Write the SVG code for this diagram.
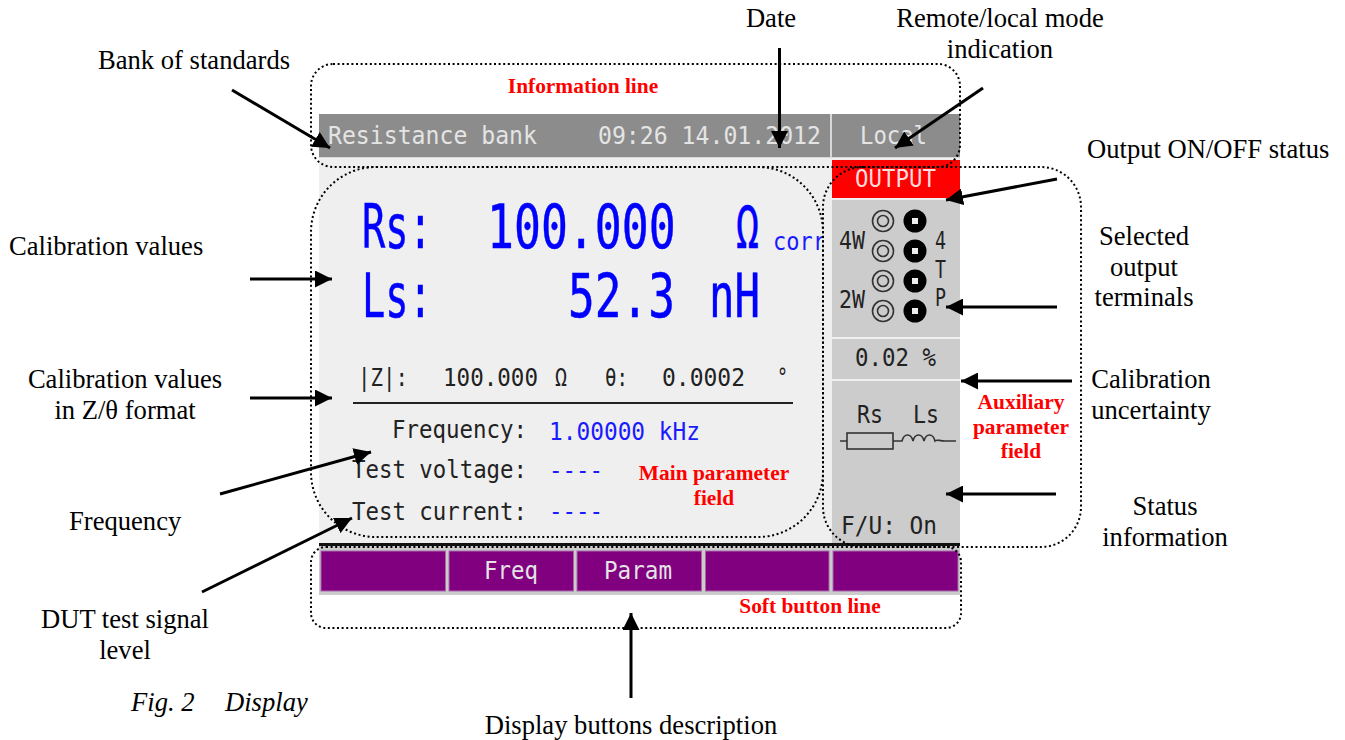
<svg xmlns="http://www.w3.org/2000/svg" width="1345" height="740" viewBox="0 0 1345 740">
<style>
.l{font-family:"Liberation Serif","Times New Roman",serif;font-size:26.6px;fill:#000}
.m{text-anchor:middle}
.r{font-family:"Liberation Serif","Times New Roman",serif;font-size:21.4px;font-weight:bold;fill:#f00;text-anchor:middle}
.s{font-family:"DejaVu Sans Mono",monospace;fill:#222}
.big{font-size:60px;fill:#00f;stroke:#00f;stroke-width:.5}
.sm{font-size:25px}
.bl{fill:#1a1aff}
.w{fill:#e4e4e4}
.d{fill:none;stroke:#000;stroke-width:2;stroke-dasharray:2 2.6}
.a{fill:none;stroke:#000;stroke-width:3;marker-end:url(#ah)}
.b{fill:#800080;stroke:#a868a8;stroke-width:1}
.h{fill:none;stroke:#333;stroke-width:1.6}
</style>
<defs>
<marker id="ah" markerUnits="userSpaceOnUse" markerWidth="17" markerHeight="17" refX="17" refY="8.5" orient="auto" viewBox="0 0 17 17"><path d="M0,0L17,8.500L0,17z" fill="#000"/></marker>
<clipPath id="mainclip"><rect x="319" y="160" width="505" height="383"/></clipPath>
</defs>
<rect width="1345" height="740" fill="#fff"/>
<g id="display">
<rect x="319" y="114" width="641" height="430" fill="#efefef"/>
<rect x="319" y="114" width="511" height="43" fill="#8c8c8c"/>
<rect x="830" y="114" width="2" height="43" fill="#d8d8d8"/>
<rect x="319" y="157" width="641" height="1" fill="#d8d8d8"/>
<rect x="832" y="114" width="128" height="43" fill="#8c8c8c"/>
<rect x="832" y="160" width="128" height="38" fill="#f00"/>
<rect x="832" y="200" width="128" height="137" fill="#ccc"/>
<rect x="832" y="339" width="128" height="40" fill="#ccc"/>
<rect x="832" y="381" width="128" height="162" fill="#ccc"/>
<rect x="319" y="543" width="641" height="3" fill="#111"/>
<rect x="319" y="546" width="641" height="49" fill="#ccc"/>
</g>
<g id="info-line">
<text class="s w sm" x="328" y="144" textLength="209" lengthAdjust="spacingAndGlyphs">Resistance bank</text>
<text class="s w sm" x="598" y="144" textLength="223" lengthAdjust="spacingAndGlyphs">09:26 14.01.2012</text>
<text class="s w sm" x="860" y="144" textLength="67" lengthAdjust="spacingAndGlyphs">Local</text>
</g>
<g id="main-values" clip-path="url(#mainclip)">
<text class="s big" x="362" y="248" textLength="70" lengthAdjust="spacingAndGlyphs">Rs:</text>
<text class="s big" transform="translate(487,248) scale(.746,1)">100.000</text>
<text class="s big" x="736" y="248" textLength="23" lengthAdjust="spacingAndGlyphs">Ω</text>
<text class="s bl sm" x="773" y="250" textLength="53" lengthAdjust="spacingAndGlyphs">corr</text>
<text class="s big" x="362" y="317" textLength="70" lengthAdjust="spacingAndGlyphs">Ls:</text>
<text class="s big" x="568" y="317" textLength="107" lengthAdjust="spacingAndGlyphs">52.3</text>
<text class="s big" x="709" y="317" textLength="51" lengthAdjust="spacingAndGlyphs">nH</text>
<text class="s sm" x="358" y="386" textLength="50" lengthAdjust="spacingAndGlyphs">|Z|:</text>
<text class="s sm" x="443" y="386" textLength="95" lengthAdjust="spacingAndGlyphs">100.000</text>
<text class="s sm" x="555" y="386" textLength="12" lengthAdjust="spacingAndGlyphs">Ω</text>
<text class="s sm" x="605" y="386" textLength="23" lengthAdjust="spacingAndGlyphs">θ:</text>
<text class="s sm" x="662" y="386" textLength="83" lengthAdjust="spacingAndGlyphs">0.0002</text>
<text class="s sm" x="777" y="386" textLength="11" lengthAdjust="spacingAndGlyphs">°</text>
<line x1="353" y1="403" x2="793" y2="403" stroke="#222" stroke-width="2"/>
<text class="s sm" x="392" y="438" textLength="135" lengthAdjust="spacingAndGlyphs">Frequency:</text>
<text class="s bl sm" x="549" y="440" textLength="151" lengthAdjust="spacingAndGlyphs">1.00000 kHz</text>
<text class="s sm" x="352" y="478" textLength="175" lengthAdjust="spacingAndGlyphs">Test voltage:</text>
<text class="s bl sm" x="549" y="479" textLength="54" lengthAdjust="spacingAndGlyphs">----</text>
<text class="s sm" x="352" y="520" textLength="175" lengthAdjust="spacingAndGlyphs">Test current:</text>
<text class="s bl sm" x="549" y="520" textLength="54" lengthAdjust="spacingAndGlyphs">----</text>
</g>
<g id="aux-values">
<text class="s sm" x="855" y="187" textLength="81" lengthAdjust="spacingAndGlyphs" style="fill:#ffdcdc">OUTPUT</text>
<text class="s sm" x="839" y="249" textLength="26" lengthAdjust="spacingAndGlyphs">4W</text>
<text class="s sm" x="839" y="308" textLength="26" lengthAdjust="spacingAndGlyphs">2W</text>
<text class="s sm" x="935" y="249" textLength="11" lengthAdjust="spacingAndGlyphs">4</text>
<text class="s sm" x="935" y="278" textLength="11" lengthAdjust="spacingAndGlyphs">T</text>
<text class="s sm" x="935" y="306" textLength="11" lengthAdjust="spacingAndGlyphs">P</text>
<g class="h">
<circle cx="883" cy="221" r="10.500"/><circle cx="883" cy="221" r="5.500"/>
<circle cx="883" cy="251" r="10.500"/><circle cx="883" cy="251" r="5.500"/>
<circle cx="883" cy="281" r="10.500"/><circle cx="883" cy="281" r="5.500"/>
<circle cx="883" cy="311" r="10.500"/><circle cx="883" cy="311" r="5.500"/>
</g>
<g fill="#000">
<circle cx="915" cy="221" r="11.500"/><circle cx="915" cy="251" r="11.500"/><circle cx="915" cy="281" r="11.500"/><circle cx="915" cy="311" r="11.500"/>
</g>
<g fill="#eee">
<rect x="912" y="218" width="6" height="6"/><rect x="912" y="248" width="6" height="6"/><rect x="912" y="278" width="6" height="6"/><rect x="912" y="308" width="6" height="6"/>
</g>
<text class="s sm" x="855" y="366" textLength="81" lengthAdjust="spacingAndGlyphs">0.02 %</text>
<text class="s sm" x="857" y="423" textLength="26" lengthAdjust="spacingAndGlyphs">Rs</text>
<text class="s sm" x="913" y="423" textLength="26" lengthAdjust="spacingAndGlyphs">Ls</text>
<rect class="h" x="847" y="433" width="46" height="16"/>
<path class="h" d="M840,441H847M893,441H902C904,433 911,433 913,441C915,433 922,433 924,441C926,433 933,433 935,441C937,439 939,441 945,441H956"/>
<text class="s sm" x="841" y="534" textLength="96" lengthAdjust="spacingAndGlyphs">F/U: On</text>
</g>
<g id="soft-buttons">
<rect class="b" x="321" y="551" width="124.500" height="40"/>
<rect class="b" x="449" y="551" width="124.500" height="40"/>
<rect class="b" x="577" y="551" width="124.500" height="40"/>
<rect class="b" x="705.500" y="551" width="123.500" height="40"/>
<rect class="b" x="833" y="551" width="125" height="40"/>
<text class="s w sm" x="484" y="579" textLength="54" lengthAdjust="spacingAndGlyphs">Freq</text>
<text class="s w sm" x="604" y="579" textLength="68" lengthAdjust="spacingAndGlyphs">Param</text>
</g>
<g id="regions">
<rect id="region-info" class="d" x="311" y="64" width="649" height="103" rx="22"/>
<rect id="region-main" class="d" x="311" y="167" width="512" height="370" rx="65"/>
<rect id="region-aux" class="d" x="823" y="167" width="258" height="380" rx="40"/>
<rect id="region-soft" class="d" x="311" y="547" width="650" height="81" rx="15"/>
</g>
<g id="connectors">
<line class="a" x1="232" y1="90" x2="330" y2="148"/>
<line class="a" x1="779.500" y1="48" x2="779.500" y2="148"/>
<line class="a" x1="983" y1="88" x2="895" y2="148"/>
<line class="a" x1="1057" y1="179" x2="946" y2="200"/>
<line class="a" x1="1057" y1="307" x2="946" y2="307"/>
<line class="a" x1="1072" y1="381" x2="961" y2="381"/>
<line class="a" x1="1056" y1="494" x2="946" y2="494"/>
<line class="a" x1="250" y1="279" x2="332" y2="279"/>
<line class="a" x1="250" y1="398" x2="332" y2="398"/>
<line class="a" x1="220" y1="494" x2="371" y2="452"/>
<line class="a" x1="202" y1="592" x2="352" y2="518"/>
<line class="a" x1="631" y1="698" x2="631" y2="613"/>
</g>
<g id="labels">
<text class="l" x="98" y="69">Bank of standards</text>
<text class="l m" x="771" y="27">Date</text>
<text class="l m" x="1000" y="27">Remote/local mode</text>
<text class="l m" x="1000" y="58">indication</text>
<text class="l" x="1087" y="158">Output ON/OFF status</text>
<text class="l m" x="1144" y="245">Selected</text>
<text class="l m" x="1144" y="276">output</text>
<text class="l m" x="1144" y="306">terminals</text>
<text class="l" x="9" y="255">Calibration values</text>
<text class="l m" x="125" y="388">Calibration values</text>
<text class="l m" x="125" y="419">in Z/θ format</text>
<text class="l" x="69" y="530">Frequency</text>
<text class="l m" x="125" y="628">DUT test signal</text>
<text class="l m" x="125" y="659">level</text>
<text class="l" x="131" y="711" style="font-style:italic">Fig. 2<tspan x="225">Display</tspan></text>
<text class="l m" x="631" y="734">Display buttons description</text>
<text class="l m" x="1151" y="388">Calibration</text>
<text class="l m" x="1151" y="419">uncertainty</text>
<text class="l m" x="1165" y="515">Status</text>
<text class="l m" x="1165" y="546">information</text>
<text class="r" x="583" y="93">Information line</text>
<text class="r" x="714" y="480">Main parameter</text>
<text class="r" x="714" y="505">field</text>
<text class="r" x="1021" y="409">Auxiliary</text>
<text class="r" x="1021" y="434">parameter</text>
<text class="r" x="1021" y="458">field</text>
<text class="r" x="810" y="613">Soft button line</text>
</g>
</svg>
